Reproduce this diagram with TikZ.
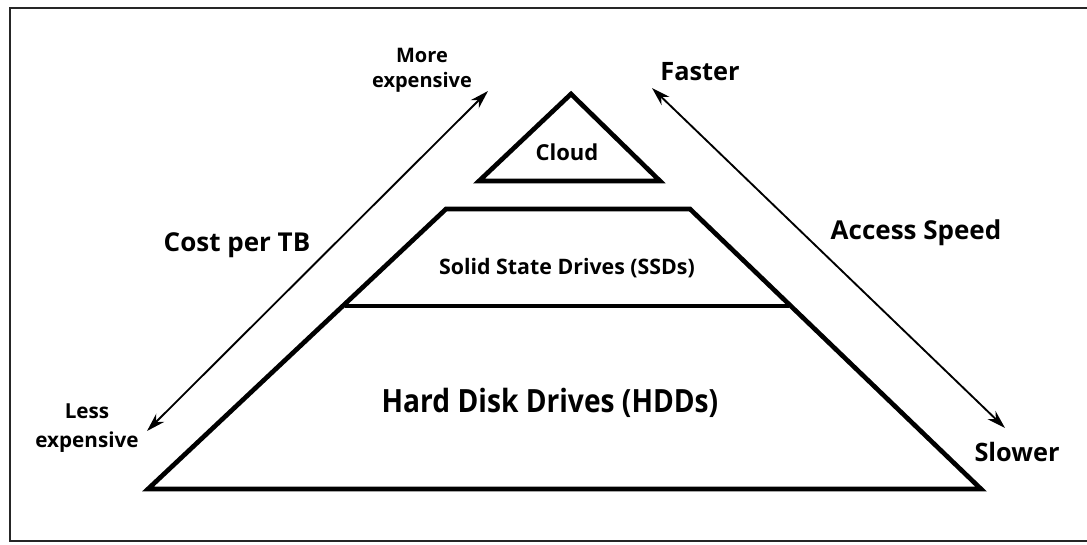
\documentclass[tikz,border=0pt]{standalone}
\usepackage{fontspec}
\setmainfont{Open Sans}
\usetikzlibrary{arrows.meta}
\tikzset{
  frameline/.style={line width=2.2pt, black!85},
  layer/.style={line width=3.5pt, line join=miter},
  scalearrow/.style={line width=1.4pt, {Stealth[length=14pt,width=8.5pt]}-{Stealth[length=14pt,width=8.5pt]}},
  lbl/.style={inner sep=0pt, align=center},
}
\begin{document}
\begin{tikzpicture}[x=0.75pt,y=-0.75pt]
\useasboundingbox (0,0) rectangle (1087,544);
% frame
\coordinate (f1) at (1090,8);
\coordinate (f2) at (10,8);
\coordinate (f3) at (10,541);
\coordinate (f4) at (1090,541);
\draw[frameline] (f1) -- (f2) -- (f3) -- (f4);
% cloud triangle
\coordinate (ca) at (571,94);
\coordinate (cl) at (479,181);
\coordinate (cr) at (660,181);
\draw[layer] (ca) -- (cr) -- (cl) -- cycle;
% SSD / HDD trapezoid
\coordinate (tl) at (446,209);
\coordinate (tr) at (690,209);
\coordinate (bl) at (148,489);
\coordinate (br) at (981,489);
\coordinate (ml) at (345,306);
\coordinate (mr) at (789,306);
\draw[layer] (tl) -- (tr) -- (br) -- (bl) -- cycle;
\draw[layer] (ml) -- (mr);
% labels
\node[lbl, font=\bfseries\fontsize{16.5}{19}\selectfont] (cloud) at (567,152) {Cloud};
\node[lbl, font=\bfseries\fontsize{16}{19}\selectfont] (ssd) at (567,268) {Solid State Drives (SSDs)};
\node[lbl, font=\bfseries\fontsize{24}{28}\selectfont\addfontfeature{FakeStretch=0.88}] (hdd) at (550,403) {Hard Disk Drives (HDDs)};
% arrows
\coordinate (cTop) at (488,91);
\coordinate (cBot) at (147,431);
\draw[scalearrow] (cBot) -- (cTop);
\coordinate (sTop) at (652,88);
\coordinate (sBot) at (1005,428);
\draw[scalearrow] (sTop) -- (sBot);
\node[lbl, font=\bfseries\fontsize{15}{18.5}\selectfont] (more) at (422,70) {More\\expensive};
\node[lbl, font=\bfseries\fontsize{15.5}{22}\selectfont] (less) at (87,428) {Less\\expensive};
\node[lbl, font=\bfseries\fontsize{19.5}{23}\selectfont] (cost) at (237,245) {Cost per TB};
\node[lbl, font=\bfseries\fontsize{19}{23}\selectfont] (faster) at (700,72) {Faster};
\node[lbl, font=\bfseries\fontsize{19.5}{23}\selectfont] (access) at (916,233) {Access Speed};
\node[lbl, font=\bfseries\fontsize{19}{23}\selectfont] (slower) at (1017,452) {Slower};
\end{tikzpicture}
\end{document}
